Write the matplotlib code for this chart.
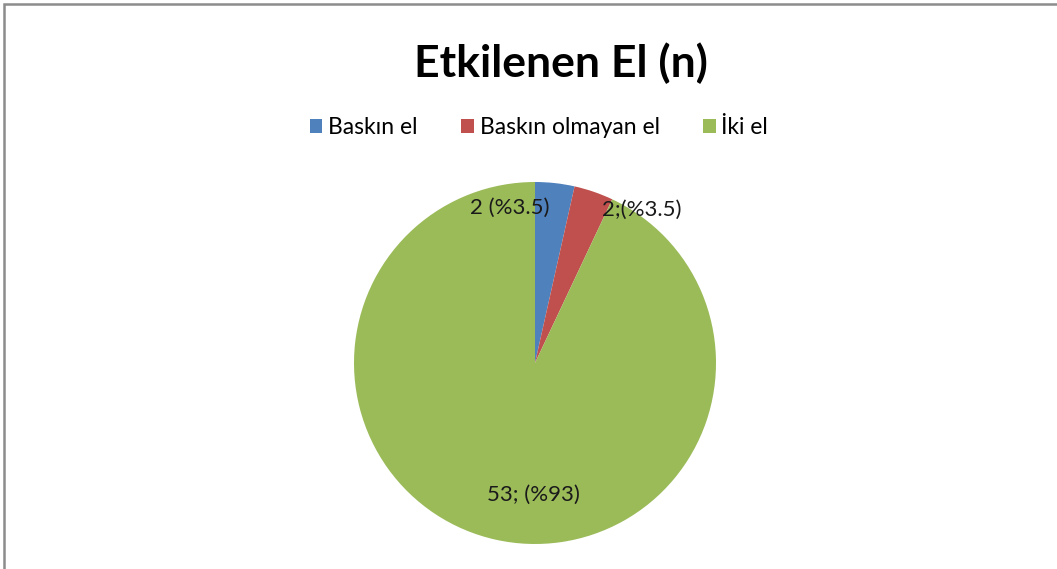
import matplotlib.pyplot as plt
from matplotlib.patches import Rectangle, Patch

# Dados
categorias = ['Baskın el', 'Baskın olmayan el', 'İki el']
valores = [2, 2, 53]
rotulos = ['2 (%3.5)', '2;(%3.5)', '53; (%93)']
cores = ['#4F81BD', '#C0504D', '#9BBB59']
# posições dos rótulos (em raios, relativo ao centro)
pos_rotulos = [(-0.14, 0.855), (0.59, 0.845), (-0.01, -0.73)]

plt.rcParams['font.family'] = ['Lato', 'DejaVu Sans']

W, H = 1057, 569
fig = plt.figure(figsize=(W / 100, H / 100), dpi=100)

# moldura cinza (cortada à direita e embaixo)
fig.patches.append(Rectangle((4 / W, -0.1), 1.2, (H - 4) / H + 0.1,
                             transform=fig.transFigure, fill=False,
                             edgecolor='#8c8c8c', linewidth=1.8))

cx, cy, r = 535, 363, 181
ax = fig.add_axes([(cx - r) / W, (H - cy - r) / H, 2 * r / W, 2 * r / H])
ax.pie(valores, colors=cores, startangle=90, counterclock=False, radius=1,
       wedgeprops={'linewidth': 0})
ax.set_xlim(-1, 1)
ax.set_ylim(-1, 1)
ax.axis('off')

for txt, (x, y) in zip(rotulos, pos_rotulos):
    ax.text(x, y, txt, ha='center', va='center', fontsize=16, color='#1a1a1a')

fig.text(561 / W, 1 - 63 / H, 'Etkilenen El (n)', ha='center', va='center',
         fontsize=32, fontweight='bold')

handles = [Patch(facecolor=c, edgecolor='none') for c in cores]
fig.legend(handles, categorias, loc='center', bbox_to_anchor=(539 / W, 1 - 128 / H),
           ncol=3, frameon=False, fontsize=16.5, handlelength=0.55, handleheight=0.55,
           handletextpad=0.25, columnspacing=1.9)

fig.savefig('out.png', dpi=100)
